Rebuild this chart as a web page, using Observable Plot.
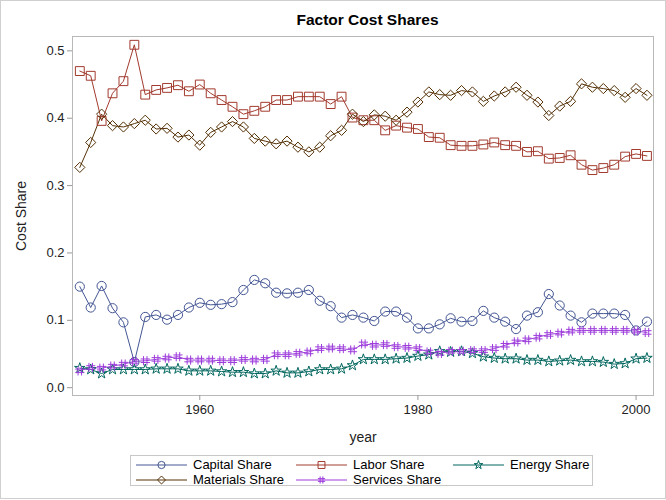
<!DOCTYPE html>
<html>
<head>
<meta charset="utf-8">
<script src="https://cdn.jsdelivr.net/npm/d3@7"></script>
<script src="https://cdn.jsdelivr.net/npm/@observablehq/plot@0.6"></script>
<style>
  html, body { margin: 0; padding: 0; background: #fff; }
  #wrap { position: relative; width: 666px; height: 500px; font-family: "Liberation Sans", Arial, sans-serif; color: #000; }
  #border { position: absolute; left: 0; top: 0; width: 664px; height: 497px; border: 1px solid #cfcfcf; pointer-events: none; }
  #title { position: absolute; left: 72px; top: 11px; width: 591px; text-align: center; font-weight: bold; font-size: 15.5px; line-height: 18px; }
  #chart { position: absolute; left: 0; top: 30px; }
  #legend { position: absolute; left: 130px; top: 455px; width: 463px; height: 31px; border: 1px solid #c8c8c8; box-sizing: border-box; }
  .item { position: absolute; display: flex; align-items: center; font-size: 13px; height: 15px; white-space: nowrap; }
  .item svg { margin-right: 6px; }
</style>
</head>
<body>
<div id="wrap">
  <div id="title">Factor Cost Shares</div>
  <div id="chart"></div>
  <div id="legend"></div>
  <div id="border"></div>
</div>
<script>
const years = [1949,1950,1951,1952,1953,1954,1955,1956,1957,1958,1959,1960,1961,1962,1963,1964,1965,
  1966,1967,1968,1969,1970,1971,1972,1973,1974,1975,1976,1977,1978,1979,1980,1981,
  1982,1983,1984,1985,1986,1987,1988,1989,1990,1991,1992,1993,1994,1995,1996,1997,1998,1999,2000,2001];

const capital = [0.150,0.119,0.151,0.118,0.097,0.038,0.105,0.108,0.101,0.108,0.119,0.126,0.123,0.124,0.127,0.145,0.160,
  0.155,0.141,0.140,0.141,0.145,0.129,0.121,0.104,0.108,0.104,0.099,0.113,0.113,0.104,0.088,0.088,
  0.094,0.103,0.098,0.099,0.114,0.104,0.098,0.087,0.107,0.112,0.139,0.122,0.107,0.097,0.110,0.110,0.110,0.108,0.085,0.098];

const labor = [0.470,0.463,0.396,0.437,0.455,0.509,0.435,0.442,0.445,0.449,0.440,0.450,0.437,0.427,0.417,0.406,0.411,
  0.417,0.427,0.427,0.432,0.432,0.432,0.421,0.432,0.401,0.397,0.397,0.382,0.389,0.386,0.384,0.372,
  0.371,0.360,0.359,0.359,0.361,0.364,0.360,0.359,0.350,0.351,0.340,0.341,0.345,0.331,0.323,0.326,0.331,0.343,0.347,0.344];

const energy = [0.029,0.027,0.021,0.027,0.027,0.027,0.027,0.028,0.028,0.028,0.025,0.025,0.025,0.024,0.023,0.023,0.021,
  0.021,0.025,0.022,0.022,0.024,0.027,0.027,0.028,0.033,0.042,0.042,0.042,0.043,0.044,0.047,0.049,
  0.054,0.053,0.054,0.051,0.046,0.044,0.043,0.043,0.041,0.041,0.039,0.040,0.041,0.039,0.039,0.038,0.035,0.036,0.043,0.044];

const materials = [0.327,0.364,0.406,0.389,0.387,0.392,0.397,0.384,0.385,0.372,0.375,0.360,0.379,0.387,0.395,0.387,0.370,
  0.366,0.362,0.366,0.357,0.350,0.357,0.374,0.382,0.406,0.395,0.405,0.403,0.397,0.409,0.424,0.439,
  0.435,0.434,0.441,0.439,0.425,0.433,0.439,0.446,0.434,0.424,0.404,0.418,0.425,0.451,0.446,0.444,0.441,0.431,0.444,0.434];

const services = [0.025,0.030,0.029,0.032,0.035,0.039,0.040,0.042,0.044,0.046,0.041,0.041,0.041,0.040,0.040,0.042,0.041,
  0.042,0.049,0.049,0.051,0.053,0.058,0.059,0.058,0.056,0.065,0.063,0.064,0.061,0.060,0.058,0.053,
  0.051,0.054,0.054,0.055,0.055,0.058,0.063,0.068,0.071,0.075,0.079,0.081,0.084,0.085,0.085,0.085,0.085,0.085,0.084,0.082];

const seriesNames = ["Capital Share","Labor Share","Energy Share","Materials Share","Services Share"];
const seriesValues = [capital, labor, energy, materials, services];
const xTicks = [1960, 1980, 2000];
const yTicks = [0, 0.1, 0.2, 0.3, 0.4, 0.5];

// styling
const colors = ["#445694","#A23A2E","#01665E","#543005","#9D3CDB"];
const hash = {
  draw(ctx, size) {
    const r = Math.sqrt(size / Math.PI);
    const a = r * 0.38;
    ctx.moveTo(-a, -r); ctx.lineTo(-a, r);
    ctx.moveTo(a, -r); ctx.lineTo(a, r);
    ctx.moveTo(-r, -a); ctx.lineTo(r, -a);
    ctx.moveTo(-r, a); ctx.lineTo(r, a);
  }
};
const symbols = [d3.symbolCircle, d3.symbolSquare, d3.symbolStar, d3.symbolDiamond2, hash];
const radii = [4.6, 5.0, 3.3, 4.6, 4.6];
const legendRadii = [3.6, 3.9, 2.7, 3.6, 3.6];

const rows = [];
seriesNames.forEach((name, k) => {
  years.forEach((yr, i) => rows.push({series: name, year: yr, value: seriesValues[k][i]}));
});

const font = "'Liberation Sans', Arial, sans-serif";
const marks = [Plot.frame({stroke: "#b8b8b8"})];
seriesNames.forEach((name, k) => {
  const d = rows.filter(r => r.series === name);
  marks.push(Plot.line(d, {x: "year", y: "value", stroke: colors[k], strokeWidth: 1}));
});
seriesNames.forEach((name, k) => {
  const d = rows.filter(r => r.series === name);
  marks.push(Plot.dot(d, {x: "year", y: "value", symbol: () => symbols[k], r: radii[k], stroke: colors[k], fill: "none", strokeWidth: 1}));
});
marks.push(
  Plot.axisX({ticks: xTicks, tickFormat: d => String(d), tickSize: 5, tickPadding: 4, stroke: "#999",
    fontSize: 13, label: "year", labelAnchor: "center", labelArrow: false, labelOffset: 46}),
  Plot.axisY({ticks: yTicks, tickFormat: d3.format(".1f"), tickSize: 5, tickPadding: 3, stroke: "#999",
    fontSize: 13, label: "Cost Share", labelAnchor: "center", labelArrow: false, labelOffset: 56})
);

const chart = Plot.plot({
  width: 666,
  height: 418,
  marginTop: 6,
  marginBottom: 53,
  marginLeft: 72,
  marginRight: 13,
  style: {fontFamily: font, fontSize: "13px", color: "#222", background: "transparent"},
  x: {domain: [1948.33, 2001.6]},
  y: {domain: [-0.0116, 0.5213]},
  marks
});
document.getElementById("chart").appendChild(chart);

chart.querySelectorAll("[aria-label='x-axis label'] text, [aria-label='y-axis label'] text").forEach(t => t.setAttribute("font-size", "14"));

// legend
const legend = document.getElementById("legend");
const colX = [5, 165, 322];
seriesNames.forEach((name, k) => {
  const item = document.createElement("div");
  item.className = "item";
  item.style.left = colX[k % 3] + "px";
  item.style.top = (k < 3 ? 1 : 16) + "px";
  const svg = d3.create("svg").attr("width", 51).attr("height", 12);
  svg.append("line").attr("x1", 0).attr("x2", 51).attr("y1", 6).attr("y2", 6).attr("stroke", colors[k]).attr("stroke-width", 1);
  svg.append("path").attr("transform", "translate(25.5,6)")
    .attr("d", d3.symbol(symbols[k], Math.PI * legendRadii[k] * legendRadii[k])())
    .attr("fill", "none").attr("stroke", colors[k]).attr("stroke-width", 1);
  item.appendChild(svg.node());
  const span = document.createElement("span");
  span.textContent = name;
  item.appendChild(span);
  legend.appendChild(item);
});
</script>
</body>
</html>
